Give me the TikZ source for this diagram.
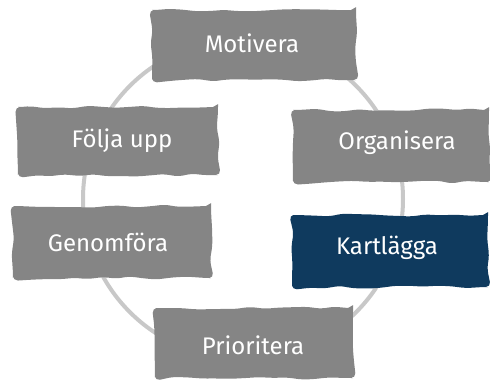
\documentclass[tikz,border=0pt]{standalone}
\usepackage{fontspec}
\setmainfont{Fira Sans}
\usetikzlibrary{decorations.pathmorphing}
\definecolor{boxgray}{HTML}{858585}
\definecolor{boxblue}{HTML}{0F3A5E}
\definecolor{ringgray}{HTML}{C8C8C8}
\begin{document}
\begin{tikzpicture}[x=1pt,y=-1pt,
  brush/.style={fill=boxgray, text=white, inner sep=0pt,
    rounded corners=5pt,
    decorate, decoration={random steps, segment length=14pt, amplitude=1.6pt}},
  ring/.style={draw=ringgray, line width=4pt},
  label/.style={text=white, font=\fontsize{24}{27}\selectfont, inner sep=0pt}]
\pgfmathsetseed{11}
\useasboundingbox (0,0) rectangle (490,383);
\draw[ring] (243,199) circle (160);
\node[brush, minimum width=204pt, minimum height=70pt] (mot) at (254,45) {};
\node[brush, minimum width=200pt, minimum height=68pt] (fol) at (118,141) {};
\node[brush, minimum width=196pt, minimum height=72pt] (org) at (391,146) {};
\node[brush, minimum width=198pt, minimum height=72pt] (gen) at (112,242) {};
\node[brush, fill=boxblue, minimum width=196pt, minimum height=72pt] (kar) at (390,251) {};
\node[brush, minimum width=198pt, minimum height=70pt] (pri) at (254,343) {};
\node[label] (tmot) at (252,43) {Motivera};
\node[label] (tfol) at (122,141) {Följa upp};
\node[label] (torg) at (397,143) {Organisera};
\node[label] (tgen) at (108,242) {Genomföra};
\node[label] (tkar) at (387,248) {Kartlägga};
\node[label] (tpri) at (253,345) {Prioritera};
\end{tikzpicture}
\end{document}
